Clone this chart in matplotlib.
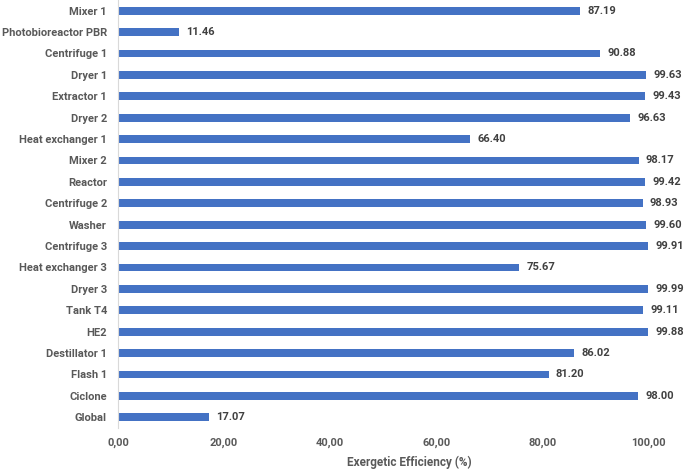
import numpy as np
import matplotlib
matplotlib.use('Agg')
import matplotlib.pyplot as plt

equipment = ['Mixer 1', 'Photobioreactor PBR', 'Centrifuge 1', 'Dryer 1', 'Extractor 1',
             'Dryer 2', 'Heat exchanger 1', 'Mixer 2', 'Reactor', 'Centrifuge 2',
             'Washer', 'Centrifuge 3', 'Heat exchanger 3', 'Dryer 3', 'Tank T4',
             'HE2', 'Destillator 1', 'Flash 1', 'Ciclone', 'Global']
efficiency = [87.19, 11.46, 90.88, 99.63, 99.43,
              96.63, 66.40, 98.17, 99.42, 98.93,
              99.60, 99.91, 75.67, 99.99, 99.11,
              99.88, 86.02, 81.20, 98.00, 17.07]
x_ticks = [0, 20, 40, 60, 80, 100]

plt.rcParams['font.family'] = ['Roboto', 'DejaVu Sans']
text_col = '#595959'
fs = 8

fig = plt.figure(figsize=(6.85, 4.71), dpi=100)
ax = fig.add_axes([0.1723, 0.0913, 0.774, 0.9087])

pos = np.arange(len(equipment))
ax.barh(pos, efficiency, height=0.36, color='#4472C4')
for p, v in zip(pos, efficiency):
    ax.text(v + 1.4, p, '%.2f' % v, va='center', ha='left', fontsize=fs,
            fontweight='bold', color='#404040', clip_on=False)

ax.set_ylim(len(equipment) - 0.5, -0.5)
ax.set_xlim(0, 100)
ax.set_yticks(pos)
ax.set_yticklabels(equipment, fontsize=fs, fontweight='bold', color=text_col)
# comma decimals on the value axis, as in the original
ax.set_xticks(x_ticks)
ax.set_xticklabels([('%.2f' % t).replace('.', ',') for t in x_ticks],
                   fontsize=fs, fontweight='bold', color=text_col)
ax.tick_params(axis='both', length=0)
ax.tick_params(axis='y', pad=8)
ax.tick_params(axis='x', pad=7)

for s in ['top', 'right', 'bottom']:
    ax.spines[s].set_visible(False)
ax.spines['left'].set_color('#D9D9D9')

fig.text(0.597, 0.005, 'Exergetic Efficiency (%)', ha='center', va='bottom',
         fontsize=8.5, fontweight='bold', color=text_col)

fig.savefig('out.png', dpi=100)
plt.close(fig)
